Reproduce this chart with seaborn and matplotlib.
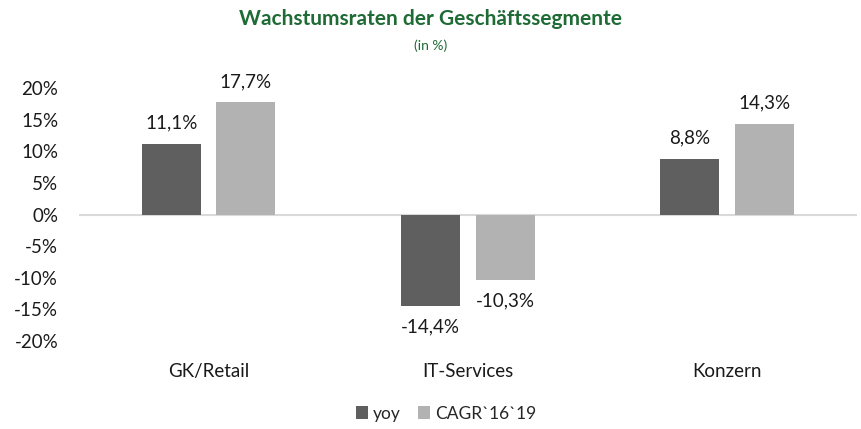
import matplotlib
matplotlib.use("Agg")
import matplotlib.pyplot as plt
import seaborn as sns
import pandas as pd

segments = ["GK/Retail", "IT-Services", "Konzern"]
series_names = ["yoy", "CAGR`16`19"]
yoy = [11.1, -14.4, 8.8]
cagr = [17.7, -10.3, 14.3]
y_ticks = [-20, -15, -10, -5, 0, 5, 10, 15, 20]

df = pd.DataFrame({
    "Segment": segments * 2,
    "Reihe": [series_names[0]] * 3 + [series_names[1]] * 3,
    "Wert": yoy + cagr,
})

sns.set_theme(style="white")
plt.rcParams["font.family"] = ["Lato", "DejaVu Sans"]

green = "#1f6b35"
txt = "#1a1a1a"
fig = plt.figure(figsize=(8.62, 4.29), dpi=100)
ax = fig.add_axes([0.0916, 0.205, 0.9024, 0.59])

sns.barplot(data=df, x="Segment", y="Wert", hue="Reihe", ax=ax,
            palette=["#5f5f5f", "#b2b2b2"], width=0.575, gap=0.21,
            saturation=1, linewidth=0)

ax.set_xlim(-0.5, 2.5)
ax.set_ylim(-20, 20)
ax.set_yticks(y_ticks)
ax.set_yticklabels([f"{t}%" for t in y_ticks], fontsize=13.5, color=txt)
ax.tick_params(axis="x", length=0, pad=16, labelsize=13.5, labelcolor=txt)
ax.tick_params(axis="y", length=0, pad=15)
ax.set_xlabel("")
ax.set_ylabel("")
for s in ax.spines.values():
    s.set_visible(False)
ax.axhline(0, color="#d9d9d9", lw=1.5, zorder=0)

# Datenbeschriftung mit Dezimalkomma
for cont in ax.containers:
    labels = [f"{v:.1f}%".replace(".", ",") for v in cont.datavalues]
    ax.bar_label(cont, labels=labels, padding=9, fontsize=13.5, color=txt)

sns.move_legend(ax, "lower center", bbox_to_anchor=(0.472, -0.38), ncol=2,
                frameon=False, title=None, fontsize=12.5, handlelength=0.7,
                handleheight=0.7, columnspacing=1.0, handletextpad=0.3)

fig.text(0.5, 0.955, "Wachstumsraten der Geschäftssegmente", ha="center",
         va="center", fontsize=15, fontweight="bold", color=green)
fig.text(0.5, 0.893, "(in %)", ha="center", va="center", fontsize=10, color=green)

fig.savefig("out.png", dpi=100)
